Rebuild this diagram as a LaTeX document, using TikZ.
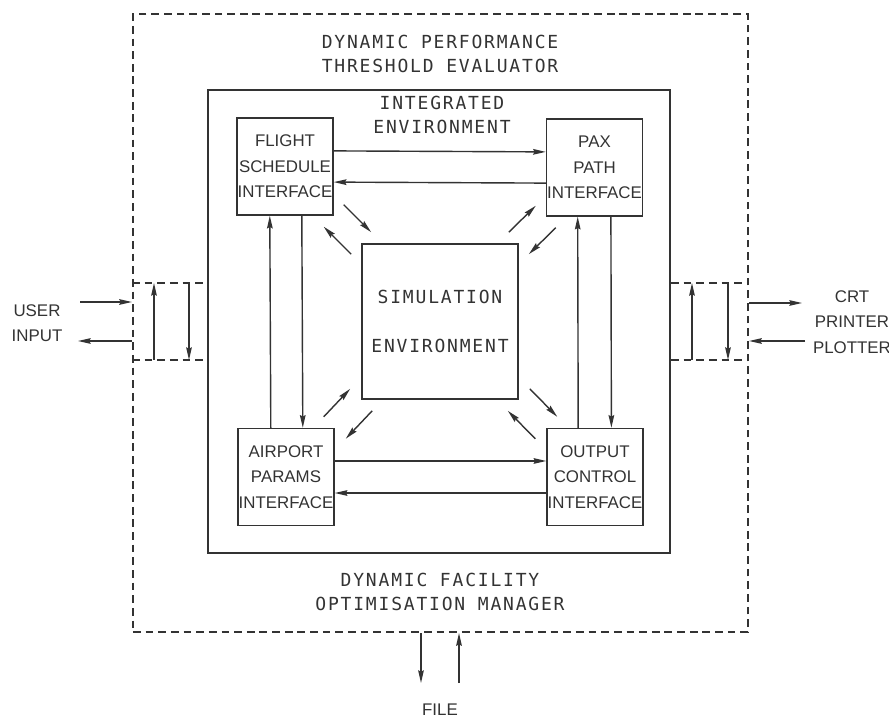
\documentclass[tikz,border=0pt]{standalone}
\usepackage{fontspec}
\setmainfont{Liberation Sans}
\newfontfamily\letterfont[LetterSpace=10]{DejaVu Sans Mono}
\usetikzlibrary{arrows.meta, positioning, calc}
\definecolor{cink}{HTML}{333333}
\tikzset{
  every picture/.style={line width=1pt, color=cink},
  iface/.style={draw=cink, minimum width=2.4cm, minimum height=2.425cm, inner sep=0pt, align=center, font=\fontsize{12}{18}\selectfont},
  arrow/.style={-{Stealth[length=9pt, width=4pt, inset=1pt]}, draw=cink},
  dashline/.style={draw=cink, dash pattern=on 5.5pt off 3.5pt, line width=1.4pt},
  heading/.style={font=\letterfont\fontsize{12.8}{17}\selectfont, align=center, inner sep=0pt},
  sidetext/.style={font=\fontsize{12}{18}\selectfont, align=center, inner sep=0pt},
}

\begin{document}
\begin{tikzpicture}[x=0.025cm, y=-0.025cm]
  \useasboundingbox (0,0) rectangle (889,721);
  % frames
  \node[dashline, minimum width=15.375cm, minimum height=15.45cm] (dpte) at (440.5,323) {};
  \node[draw, line width=1.3pt, minimum width=11.55cm, minimum height=11.575cm] (integ) at (439,321.5) {};
  \node[heading] (dptt) at (440,54) {DYNAMIC PERFORMANCE\\THRESHOLD EVALUATOR};
  \node[heading] (intt) at (442,115) {INTEGRATED\\ENVIRONMENT};
  \node[heading] (dfom) at (440,592) {DYNAMIC FACILITY\\OPTIMISATION MANAGER};
  % interfaces and simulation
  \node[iface] (fsi) at (285,166.5) {FLIGHT\\SCHEDULE\\INTERFACE};
  \node[iface] (ppi) at (594.5,167.5) {PAX\\PATH\\INTERFACE};
  \node[iface] (api) at (286,477) {AIRPORT\\PARAMS\\INTERFACE};
  \node[iface] (oci) at (595,477) {OUTPUT\\CONTROL\\INTERFACE};
  \node[draw, line width=1.2pt, minimum width=3.9cm, minimum height=3.875cm, font=\letterfont\fontsize{12.8}{17}\selectfont, align=center] (sim) at (440,321.5) {SIMULATION\\[18pt]ENVIRONMENT};
  \draw[arrow] ([yshift=0.39cm]fsi.east) -- ([yshift=0.39cm]ppi.west);
  \draw[arrow] ([yshift=-0.39cm]ppi.west) -- ([yshift=-0.39cm]fsi.east);
  \draw[arrow] ([yshift=0.4cm]api.east) -- ([yshift=0.4cm]oci.west);
  \draw[arrow] ([yshift=-0.4cm]oci.west) -- ([yshift=-0.4cm]api.east);
  \draw[arrow] ([xshift=-0.38cm]api.north) -- ([xshift=-0.38cm]fsi.south);
  \draw[arrow] ([xshift=0.42cm]fsi.south) -- ([xshift=0.42cm]api.north);
  \draw[arrow] ([xshift=-0.42cm]oci.north) -- ([xshift=-0.42cm]ppi.south);
  \draw[arrow] ([xshift=0.41cm]ppi.south) -- ([xshift=0.41cm]oci.north);
  \foreach \p/\q/\dx/\dy in {fsi.south east/sim.north west/10/-11, sim.north east/ppi.south west/-10/-11,
      sim.south west/api.north east/11/11, sim.south east/oci.north west/11/-11} {
    \draw[arrow] ([shift={(\dx,\dy)}]\p) -- ([shift={(\dx,\dy)}]\q);
    \draw[arrow] ([shift={(-1*\dx,-1*\dy)}]\q) -- ([shift={(-1*\dx,-1*\dy)}]\p);
  }
  % side panels
  \foreach \y in {283,360} {
    \draw[dashline] (dpte.west |- 0,\y) -- (integ.west |- 0,\y);
    \draw[dashline] (integ.east |- 0,\y) -- (dpte.east |- 0,\y);
  }
  \draw[arrow] (154,360) -- (154,283);
  \draw[arrow] (189,283) -- (189,360);
  \draw[arrow] (692,360) -- (692,283);
  \draw[arrow] (728,283) -- (728,360);
  % user input
  \node[sidetext] (usr) at (37,323) {USER\\INPUT};
  \coordinate (usrin) at (80,302);
  \coordinate (usrout) at (78,341);
  \draw[arrow] (usrin) -- (dpte.west |- usrin);
  \draw[arrow] (dpte.west |- usrout) -- (usrout);
  % devices
  \node[sidetext] (dev) at (852,322) {CRT\\PRINTER\\PLOTTER};
  \coordinate (devout) at (802,303);
  \coordinate (devin) at (805,341);
  \draw[arrow] (dpte.east |- devout) -- (devout);
  \draw[arrow] (devin) -- (dpte.east |- devin);
  % file
  \node[sidetext] (file) at (440,710) {FILE};
  \coordinate (fout) at (421,683);
  \coordinate (fin) at (459,683);
  \draw[arrow] (dpte.south -| fout) -- (fout);
  \draw[arrow] (fin) -- (dpte.south -| fin);
\end{tikzpicture}
\end{document}
